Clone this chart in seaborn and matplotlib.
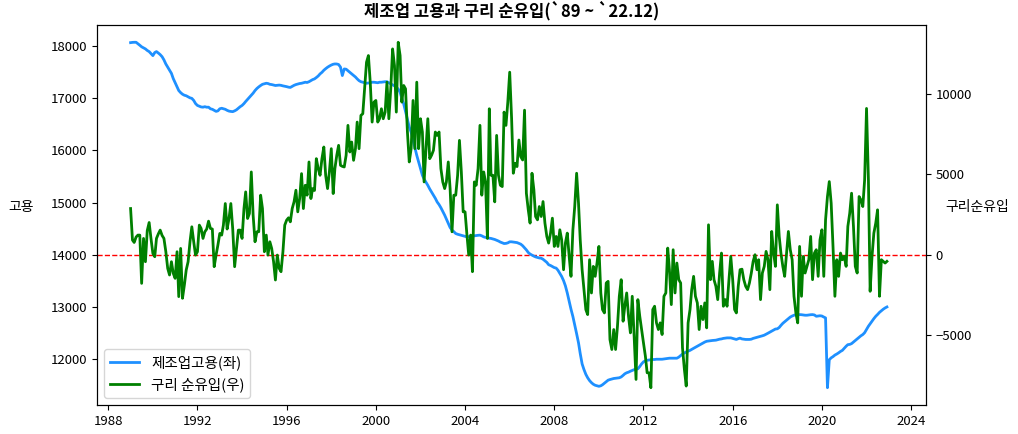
import numpy as np
import pandas as pd
import matplotlib
matplotlib.use("Agg")
import matplotlib.pyplot as plt
import seaborn as sns

# ---------------- data (monthly, 1989-01 .. 2022-12) ----------------
start_month = "1989-01-01"
n_months = 408

# 제조업 고용 (천명), one row per year
employment = [
    18070, 18075, 18077, 18077, 18050, 18020, 17990, 17970, 17950, 17920, 17898, 17860,  # 1989
    17821, 17880, 17898, 17870, 17840, 17800, 17740, 17661, 17600, 17540, 17480, 17380,  # 1990
    17300, 17220, 17150, 17110, 17080, 17060, 17050, 17030, 17010, 17000, 16960, 16900,  # 1991
    16864, 16850, 16835, 16831, 16840, 16830, 16831, 16800, 16790, 16770, 16750, 16760,  # 1992
    16800, 16810, 16800, 16790, 16770, 16755, 16749, 16745, 16760, 16780, 16810, 16840,  # 1993
    16864, 16900, 16940, 16980, 17020, 17056, 17100, 17150, 17190, 17220, 17247, 17270,  # 1994
    17280, 17290, 17285, 17270, 17265, 17255, 17247, 17250, 17255, 17250, 17240, 17233,  # 1995
    17225, 17215, 17210, 17230, 17250, 17265, 17275, 17285, 17290, 17300, 17310, 17305,  # 1996
    17320, 17340, 17360, 17374, 17400, 17430, 17470, 17500, 17540, 17570, 17598, 17620,  # 1997
    17640, 17655, 17661, 17660, 17650, 17600, 17438, 17565, 17560, 17530, 17500, 17470,  # 1998
    17440, 17410, 17374, 17340, 17320, 17310, 17300, 17290, 17295, 17300, 17310, 17310,  # 1999
    17305, 17300, 17310, 17310, 17315, 17320, 17320, 17300, 17278, 17260, 17240, 17214,  # 2000
    17180, 17118, 17000, 16894, 16750, 16607, 16450, 16350, 16200, 16050, 15906, 15780,  # 2001
    15650, 15523, 15450, 15390, 15330, 15260, 15200, 15140, 15080, 15010, 14960, 14900,  # 2002
    14830, 14757, 14680, 14600, 14520, 14470, 14440, 14404, 14390, 14380, 14370, 14360,  # 2003
    14350, 14340, 14345, 14350, 14355, 14360, 14365, 14370, 14373, 14360, 14340, 14330,  # 2004
    14320, 14315, 14310, 14300, 14290, 14275, 14260, 14240, 14225, 14212, 14215, 14225,  # 2005
    14245, 14245, 14240, 14236, 14230, 14215, 14200, 14170, 14130, 14090, 14040, 14010,  # 2006
    13990, 13970, 13955, 13945, 13935, 13930, 13910, 13880, 13850, 13805, 13790, 13770,  # 2007
    13750, 13740, 13700, 13640, 13580, 13500, 13400, 13262, 13100, 12950, 12810, 12650,  # 2008
    12480, 12305, 12100, 11900, 11793, 11700, 11634, 11580, 11540, 11510, 11490, 11480,  # 2009
    11470, 11480, 11500, 11530, 11560, 11588, 11600, 11610, 11620, 11625, 11630, 11634,  # 2010
    11650, 11680, 11710, 11730, 11742, 11760, 11775, 11790, 11800, 11806, 11850, 11900,  # 2011
    11940, 11960, 11970, 11975, 11980, 11985, 11985, 11990, 11990, 11990, 11990, 11995,  # 2012
    12000, 12005, 12010, 12010, 12010, 12010, 12010, 12030, 12060, 12090, 12110, 12130,  # 2013
    12144, 12160, 12180, 12200, 12220, 12240, 12260, 12280, 12300, 12320, 12335, 12340,  # 2014
    12345, 12350, 12352, 12356, 12365, 12375, 12380, 12390, 12395, 12400, 12400, 12400,  # 2015
    12390, 12380, 12370, 12385, 12395, 12380, 12375, 12370, 12370, 12370, 12375, 12390,  # 2016
    12400, 12410, 12420, 12430, 12440, 12452, 12470, 12490, 12510, 12530, 12550, 12570,  # 2017
    12574, 12600, 12640, 12680, 12710, 12740, 12770, 12800, 12820, 12835, 12845, 12847,  # 2018
    12847, 12845, 12840, 12835, 12835, 12840, 12845, 12847, 12840, 12815, 12820, 12825,  # 2019
    12820, 12800, 12784, 11443, 11980, 12017, 12040, 12070, 12090, 12113, 12140, 12160,  # 2020
    12200, 12240, 12270, 12275, 12290, 12320, 12350, 12380, 12410, 12440, 12464, 12500,  # 2021
    12560, 12624, 12670, 12720, 12770, 12815, 12850, 12890, 12920, 12950, 12975, 12994,  # 2022
]

# 구리 순유입, one row per year
copper_net_import = [
    2875, 913, 764, 1100, 1222, 1222, -1782, 1015, -435, 1500, 2006, 1015,  # 1989
    83, -124, 1015, 1300, 1533, 1200, 1015, 200, -849, -1262, -435, -1160,  # 1990
    -1470, 186, -2608, 393, -2712, -1884, -953, -435, 807, 1739, 807, -21,  # 1991
    186, 1843, 1636, 1015, 1428, 1600, 2090, 1636, 1600, -745, -21, 600,  # 1992
    1325, 1222, 1843, 3187, 1600, 2256, 3187, 1600, -745, 393, 1533, 1533,  # 1993
    1015, 2875, 3912, 2256, 2565, 5154, 2462, 807, 1428, 1428, 3707, 2875,  # 1994
    186, 1222, -21, 807, 393, -435, -1573, -21, -849, -1056, 186, 1843,  # 1995
    2155, 2300, 2049, 2875, 3290, 4015, 2670, 3497, 5050, 2875, 4325, 3707,  # 1996
    5775, 3497, 4118, 4000, 5981, 5360, 4946, 5981, 6707, 4946, 4118, 5154,  # 1997
    6603, 3808, 5360, 6190, 6810, 5567, 5500, 5464, 6190, 8054, 6396, 7017,  # 1998
    5878, 6603, 8259, 6603, 8675, 8778, 10328, 11985, 12400, 10743, 8259, 9501,  # 1999
    9604, 8259, 8467, 9087, 8467, 8880, 10743, 8467, 10328, 12814, 11778, 8880,  # 2000
    13227, 12400, 9501, 10535, 10328, 7638, 5775, 6603, 9604, 6603, 10743, 6603,  # 2001
    8467, 7638, 4532, 6603, 8467, 5981, 6190, 6500, 7638, 7430, 7638, 5360,  # 2002
    4532, 4118, 4532, 5775, 4118, 1428, 3707, 3707, 4946, 7120, 5154, 2670,  # 2003
    2670, 1222, -21, 1222, -1056, 4532, 4325, 5360, 8054, 3707, 5154, 4532,  # 2004
    1015, 9087, 4946, 4946, 3290, 7430, 4946, 4325, 4243, 8880, 8054, 9501,  # 2005
    11364, 8500, 5073, 5695, 5488, 7142, 6106, 5900, 9000, 3830, 2795, 1968,  # 2006
    5073, 4036, 2380, 2174, 3000, 2380, 3310, 1968, 1138, 725, 1346, 2276,  # 2007
    517, 1138, 517, 1553, 932, -932, 725, 1346, -104, -1346, 1553, 3000,  # 2008
    5073, 3207, 932, -932, -2174, -3415, -3726, -311, -2380, -725, -1346, -518,  # 2009
    517, -2380, -3415, -3622, -1760, -1656, -5280, -5900, -4657, -5900, -4450, -2587,  # 2010
    -1553, -4140, -3207, -2380, -3830, -4865, -2587, -5072, -7763, -2795, -3830, -4657,  # 2011
    -5488, -6313, -7349, -7349, -8280, -3415, -3207, -4243, -4657, -4243, -4968, -2587,  # 2012
    -2380, 414, -932, -3105, 311, -2380, -518, -1553, -1760, -5797, -7142, -8176,  # 2013
    -4243, -3415, -2174, -1346, -2587, -3000, -4657, -3207, -4036, -3000, -4553, 1863,  # 2014
    -1553, -414, -1553, -1968, -2795, -1139, 104, -3207, -2795, -3207, -1553, -104,  # 2015
    -1553, -3415, -3622, -1968, -932, -900, -1553, -1968, -2174, -1760, -1139, -414,  # 2016
    0, -932, -311, -2795, -1139, -725, 207, -311, -2174, 1449, 104, -725,  # 2017
    3105, 1138, 104, -725, -1346, 104, 1449, 311, -311, -2587, -3622, -4243,  # 2018
    517, -2587, -104, -1139, -725, -311, 1138, -1553, 104, 311, -1346, 932,  # 2019
    1553, -1346, 2174, 3622, 4553, 3207, 517, -2587, -311, -1346, 104, -311,  # 2020
    -104, -725, 1760, 2587, 3830, 1760, -725, -1139, 3622, 3415, 3000, 4657,  # 2021
    9108, 4657, -2277, -104, 1346, 1968, 2795, -2587, -311, -414, -518, -414,  # 2022
]

x_tick_years = [1988, 1992, 1996, 2000, 2004, 2008, 2012, 2016, 2020, 2024]
left_ticks = [12000, 13000, 14000, 15000, 16000, 17000, 18000]
right_ticks = [-5000, 0, 5000, 10000]

title = "제조업 고용과 구리 순유입(`89 ~ `22.12)"
label_emp = "제조업고용(좌)"
label_cu = "구리 순유입(우)"

# ---------------- plot ----------------
plt.rcParams["font.family"] = ["Noto Sans CJK KR", "DejaVu Sans"]
plt.rcParams["axes.unicode_minus"] = True

dates = pd.date_range(start_month, periods=n_months, freq="MS")
df = pd.DataFrame({"date": dates, "employment": employment, "copper": copper_net_import})

fig = plt.figure(figsize=(10.18, 4.34), dpi=100)
ax = fig.add_axes([97 / 1018, 1 - 405 / 434, 829 / 1018, 380 / 434])

ax.axhline(14000, color="red", linestyle="--", linewidth=1, zorder=1)
sns.lineplot(data=df, x="date", y="employment", ax=ax, color="dodgerblue",
             linewidth=2, label=label_emp, legend=False)

ax2 = ax.twinx()
sns.lineplot(data=df, x="date", y="copper", ax=ax2, color="green",
             linewidth=2, label=label_cu, legend=False)

ax.set_ylim(11111, 18409)
ax2.set_ylim(-9355, 14302)
ax.set_yticks(left_ticks)
ax2.set_yticks(right_ticks)

ax.set_xlim(pd.Timestamp("1987-07-01"), pd.Timestamp("2024-09-01"))
ax.set_xticks([pd.Timestamp(f"{y}-01-01") for y in x_tick_years])
ax.set_xticklabels([str(y) for y in x_tick_years])

ax.tick_params(labelsize=9.5)
ax2.tick_params(labelsize=9.5)

ax.set_xlabel("")
ax.set_ylabel("고용", rotation=0, fontsize=10, ha="center", va="center")
ax.yaxis.set_label_coords(-0.091, 0.52)
ax2.set_ylabel("구리순유입", rotation=0, fontsize=10, ha="center", va="center")
ax2.yaxis.set_label_coords(1.0615, 0.52)

ax.set_title(title, fontsize=12, fontweight="bold")

h1 = ax.get_lines()[-1]
h2 = ax2.get_lines()[-1]
ax2.legend([h1, h2], [label_emp, label_cu], loc="lower left", fontsize=10.5)

fig.savefig("out.png", dpi=100)
